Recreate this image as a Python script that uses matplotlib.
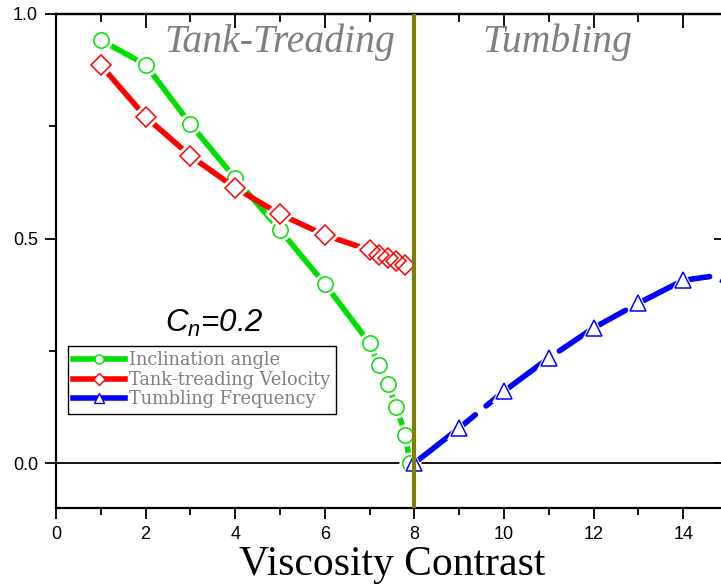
import matplotlib
matplotlib.use('Agg')
import matplotlib.pyplot as plt
from matplotlib.lines import Line2D
from matplotlib.ticker import MultipleLocator

# ---- data ----
incl_x = [1, 2, 3, 4, 5, 6, 7, 7.2, 7.4, 7.6, 7.8, 7.9]
incl_y = [0.942, 0.887, 0.755, 0.634, 0.519, 0.399, 0.267, 0.218, 0.176, 0.125, 0.062, 0.0]
tank_x = [1, 2, 3, 4, 5, 6, 7, 7.2, 7.4, 7.6, 7.8]
tank_y = [0.886, 0.771, 0.684, 0.613, 0.554, 0.508, 0.474, 0.464, 0.457, 0.449, 0.441]
tumb_x = [8, 9, 10, 11, 12, 13, 14, 15]
tumb_y = [0.0, 0.078, 0.160, 0.234, 0.301, 0.356, 0.407, 0.421]
labels = ['Inclination angle', 'Tank-treading Velocity', 'Tumbling Frequency']
xticks = [0, 2, 4, 6, 8, 10, 12, 14]
yticks = [0.0, 0.5, 1.0]
transition = 8.0

plt.rcParams['mathtext.fontset'] = 'custom'
plt.rcParams['mathtext.it'] = 'Liberation Sans:italic'
plt.rcParams['mathtext.rm'] = 'Liberation Sans:italic'

fig = plt.figure(figsize=(7.21, 5.85), dpi=100)
ax = fig.add_axes([56/721, 77/585, 672/721, 494/585])
ax.set_xlim(0, 15)
ax.set_ylim(-0.1, 1.0)

def series(x, y, color, marker, ms, z, ls='-'):
    ax.plot(x, y, color=color, lw=4.0, ls=ls, zorder=z, solid_capstyle='round',
            dash_capstyle='round')
    ax.plot(x, y, ls='none', marker=marker, ms=ms + 5, mfc='white', mec='white',
            mew=0, zorder=z + 0.1)
    ax.plot(x, y, ls='none', marker=marker, ms=ms, mfc='none', mec=color,
            mew=1.1, zorder=z + 0.2)

series(incl_x, incl_y, '#00e000', 'o', 11, 3)
series(tank_x, tank_y, '#ff0000', 'D', 10, 4)
series(tumb_x, tumb_y, '#0000ff', '^', 12, 5, ls=(0, (14, 2.5)))

ax.axhline(0, color='black', lw=1.3, zorder=2)
ax.axvline(transition, color='#808000', lw=3, zorder=10)

# region labels
ax.text(5.0, 0.915, 'Tank-Treading', fontfamily='Liberation Serif', fontstyle='italic',
        fontsize=28.5, color='#808080', ha='center', va='baseline', zorder=6)
ax.text(11.2, 0.915, 'Tumbling', fontfamily='Liberation Serif', fontstyle='italic',
        fontsize=28.5, color='#808080', ha='center', va='baseline', zorder=6)
ax.text(2.43, 0.292, r'$C_n$=0.2', fontfamily='Liberation Sans', fontstyle='italic',
        fontsize=22.5, color='black', ha='left', va='baseline')

# legend
handles = [
    Line2D([], [], color='#00e000', lw=4, marker='o', ms=6.5, mfc='white', mec='#00e000'),
    Line2D([], [], color='#ff0000', lw=4, marker='D', ms=6, mfc='white', mec='#ff0000'),
    Line2D([], [], color='#0000ff', lw=4, marker='^', ms=7, mfc='white', mec='#0000ff'),
]
leg = fig.legend(handles, labels, loc='upper left',
                 bbox_to_anchor=(68/721, 1 - 346/585),
                 prop={'family': 'DejaVu Serif', 'size': 12.8},
                 labelcolor='#808080', frameon=True, fancybox=False,
                 edgecolor='black', framealpha=1, handlelength=2.9,
                 handletextpad=0.25, borderpad=0.3, labelspacing=0.08,
                 borderaxespad=0)
leg.get_frame().set_linewidth(1.0)

# ticks
ax.set_xticks(xticks)
ax.set_yticks(yticks)
ax.set_yticklabels([f'{v:.1f}' for v in yticks])
ax.xaxis.set_minor_locator(MultipleLocator(1))
ax.yaxis.set_minor_locator(MultipleLocator(0.25))
ax.tick_params(axis='both', which='major', direction='out', length=8, width=1.3,
               labelsize=13, pad=5)
ax.tick_params(axis='both', which='minor', direction='out', length=5, width=1.3)
for lab in ax.get_xticklabels() + ax.get_yticklabels():
    lab.set_fontfamily('Liberation Sans')

top = ax.secondary_xaxis('top')
top.set_xticks(xticks)
top.xaxis.set_minor_locator(MultipleLocator(1))
top.tick_params(axis='x', which='major', direction='in', length=10, width=1.3, labeltop=False)
top.tick_params(axis='x', which='minor', direction='in', length=6, width=1.3)
top.spines['top'].set_linewidth(1.6)

right = ax.secondary_yaxis('right')
right.set_yticks(yticks)
right.tick_params(axis='y', which='major', direction='in', length=10, width=1.3, labelright=False)

for s in ax.spines.values():
    s.set_linewidth(1.6)

ax.set_xlabel('Viscosity Contrast', fontfamily='Liberation Serif', fontsize=30, labelpad=2)

fig.savefig('out.png', dpi=100)
